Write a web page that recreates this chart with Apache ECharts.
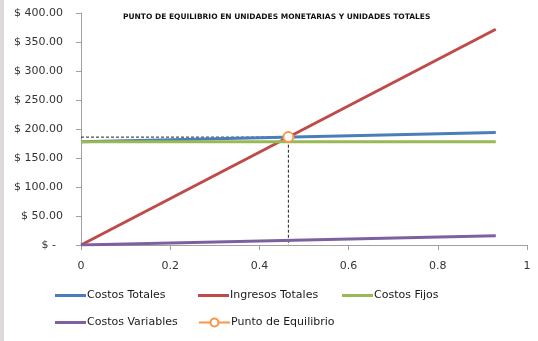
<!DOCTYPE html>
<html>
<head>
<meta charset="utf-8">
<script src="https://cdn.jsdelivr.net/npm/echarts@6/dist/echarts.min.js"></script>
<style>
  html, body { margin: 0; padding: 0; background: #fff; }
  #chart { width: 538px; height: 341px; }
</style>
</head>
<body>
<div id="chart"></div>
<script>
// Units sold (x) at which each cost/revenue line is evaluated
var unidades = [0, 0.93];
var costosTotales = [178, 194];
var ingresosTotales = [0, 372];
var costosFijos = [178, 178];
var costosVariables = [0, 16];
// Break-even point (units, money)
var puntoEquilibrio = [0.465, 186];

var yTicks = [0, 50, 100, 150, 200, 250, 300, 350, 400];

function pairs(xs, ys) {
  return xs.map(function (x, i) { return [x, ys[i]]; });
}

var fontFam = '"DejaVu Sans", sans-serif';
var chart = echarts.init(document.getElementById('chart'), null, { renderer: 'canvas' });

function legendAt(name, left, top, plain) {
  var item = plain ? { name: name, icon: 'rect' } : { name: name };
  return {
    data: [item], left: left, top: top,
    itemWidth: 31, itemHeight: plain ? 3 : 10, itemGap: 0,
    textStyle: { fontFamily: fontFam, fontSize: 11, color: '#1a1a1a', padding: [0, 0, 0, -4] },
    padding: 0
  };
}

chart.setOption({
  animation: false,
  backgroundColor: '#fff',
  graphic: [{ type: 'rect', shape: { x: 0, y: 0, width: 4, height: 341 }, style: { fill: '#dcd8dc' } }],
  title: {
    text: 'PUNTO DE EQUILIBRIO EN UNIDADES MONETARIAS Y UNIDADES TOTALES',
    left: 118, top: 8,
    textStyle: { fontFamily: fontFam, fontSize: 7.5, fontWeight: 'bold', color: '#111' }
  },
  legend: [
    legendAt('Costos Totales', 55, 290, true),
    legendAt('Ingresos Totales', 198, 290, true),
    legendAt('Costos Fijos', 342, 290, true),
    legendAt('Costos Variables', 55, 317, true),
    legendAt('Punto de Equilibrio', 198, 317, false)
  ],
  grid: { left: 81, right: 11, top: 13, bottom: 96 },
  xAxis: {
    type: 'value', min: 0, max: 1, interval: 0.2,
    axisLine: { lineStyle: { color: '#a0a0a0' } },
    axisTick: { show: true, length: 5, lineStyle: { color: '#a0a0a0' } },
    splitLine: { show: false },
    axisLabel: { fontFamily: fontFam, fontSize: 11, color: '#333', margin: 16 }
  },
  yAxis: {
    type: 'value', min: yTicks[0], max: yTicks[yTicks.length - 1], interval: 50,
    axisLine: { show: true, lineStyle: { color: '#a0a0a0' } },
    axisTick: { show: true, length: 5, lineStyle: { color: '#a0a0a0' } },
    splitLine: { show: false },
    axisLabel: {
      fontFamily: fontFam, fontSize: 11, color: '#333', margin: 18,
      formatter: function (v) { return v === 0 ? '$ -  ' : '$ ' + v.toFixed(2); }
    }
  },
  series: [
    {
      name: 'guia', type: 'line', silent: true, symbol: 'none', z: 1,
      lineStyle: { color: '#222', width: 1, type: [3, 2] },
      data: [[0, puntoEquilibrio[1]], puntoEquilibrio, [puntoEquilibrio[0], 0]]
    },
    { name: 'Costos Totales', type: 'line', symbol: 'none', color: '#4a7ebb',
      lineStyle: { width: 3 }, data: pairs(unidades, costosTotales) },
    { name: 'Ingresos Totales', type: 'line', symbol: 'none', color: '#be4b48',
      lineStyle: { width: 3 }, data: pairs(unidades, ingresosTotales) },
    { name: 'Costos Fijos', type: 'line', symbol: 'none', color: '#98b954',
      lineStyle: { width: 3 }, data: pairs(unidades, costosFijos) },
    { name: 'Costos Variables', type: 'line', symbol: 'none', color: '#7d60a0',
      lineStyle: { width: 3 }, data: pairs(unidades, costosVariables) },
    { name: 'Punto de Equilibrio', type: 'line', color: '#f79646', z: 5,
      symbol: 'circle', symbolSize: 10, showSymbol: true,
      itemStyle: { color: '#fff', borderColor: '#f79646', borderWidth: 2 },
      lineStyle: { width: 3, color: '#f79646' },
      data: [puntoEquilibrio] }
  ]
});
</script>
</body>
</html>
